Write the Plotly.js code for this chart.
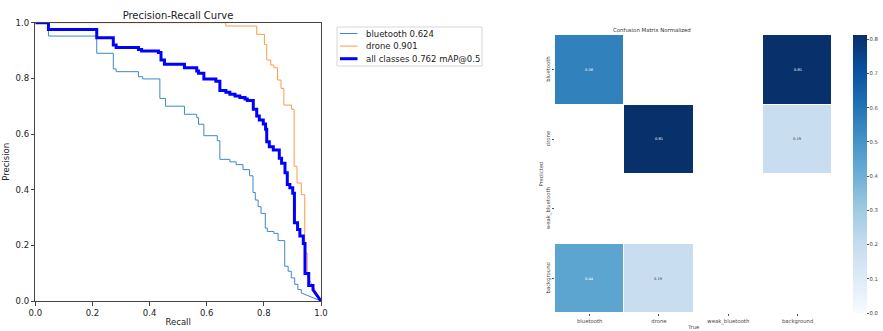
<!DOCTYPE html>
<html>
<head>
<meta charset="utf-8">
<script src="https://cdn.plot.ly/plotly-3.0.1.min.js"></script>
<style>html,body{margin:0;padding:0;background:#fff;}#chart{width:883px;height:331px;}</style>
</head>
<body>
<div id="chart"></div>
<script>
// ---- Precision-Recall data (step breakpoints: recall where the level starts, precision level) ----
const btRecall = [0, 0.046, 0.215, 0.273, 0.283, 0.361, 0.376, 0.436, 0.456, 0.522, 0.565, 0.571, 0.590, 0.637, 0.646, 0.681, 0.703, 0.727, 0.750, 0.762, 0.770, 0.780, 0.790, 0.805, 0.812, 0.835, 0.850, 0.873, 0.885, 0.896, 0.908, 0.919, 0.931];
const btPrec   = [1.0, 0.952, 0.890, 0.834, 0.824, 0.806, 0.798, 0.728, 0.700, 0.671, 0.659, 0.635, 0.594, 0.576, 0.509, 0.500, 0.490, 0.472, 0.450, 0.390, 0.363, 0.339, 0.315, 0.262, 0.250, 0.243, 0.217, 0.125, 0.107, 0.083, 0.060, 0.041, 0.029];

const droneRecall = [0, 0.667, 0.775, 0.802, 0.810, 0.824, 0.835, 0.848, 0.860, 0.870, 0.897, 0.906, 0.916, 0.931, 0.943, 0.952];
const dronePrec   = [1.0, 0.988, 0.958, 0.922, 0.866, 0.848, 0.838, 0.794, 0.764, 0.704, 0.689, 0.484, 0.424, 0.382, 0.172, 0.090];

const allRecall = [0, 0.046, 0.215, 0.273, 0.283, 0.361, 0.372, 0.431, 0.440, 0.452, 0.522, 0.565, 0.571, 0.590, 0.632, 0.646, 0.667, 0.681, 0.699, 0.716, 0.734, 0.742, 0.763, 0.775, 0.784, 0.798, 0.806, 0.810, 0.819, 0.833, 0.854, 0.862, 0.874, 0.882, 0.891, 0.901, 0.907, 0.918, 0.926, 0.938, 0.944, 0.957, 0.972];
const allPrec   = [1.0, 0.976, 0.946, 0.920, 0.911, 0.904, 0.898, 0.893, 0.866, 0.851, 0.838, 0.826, 0.818, 0.798, 0.790, 0.756, 0.750, 0.743, 0.737, 0.731, 0.726, 0.720, 0.689, 0.665, 0.650, 0.636, 0.617, 0.572, 0.554, 0.543, 0.513, 0.495, 0.461, 0.419, 0.407, 0.387, 0.281, 0.257, 0.234, 0.207, 0.099, 0.056, 0.040];

const seriesNames = ["bluetooth 0.624", "drone 0.901", "all classes 0.762 mAP@0.5"];

// ---- Confusion matrix data ----
const cmTrue = ["bluetooth", "drone", "weak_bluetooth", "background"];
const cmPred = ["bluetooth", "drone", "weak_bluetooth", "background"];
const cmRowBluetooth  = [0.56, null, null, 0.81];
const cmRowDrone      = [null, 0.81, null, 0.19];
const cmRowWeak       = [null, null, null, null];
const cmRowBackground = [0.44, 0.19, null, null];
const cmMax = 0.8125;

function stepLine(r, p) {
  const x = [r[0]], y = [p[0]];
  for (let i = 1; i < r.length; i++) {
    x.push(r[i]); y.push(p[i - 1]);
    x.push(r[i]); y.push(p[i]);
  }
  x.push(1); y.push(0);
  return {x, y};
}

const bt = stepLine(btRecall, btPrec);
const dr = stepLine(droneRecall, dronePrec);
const al = stepLine(allRecall, allPrec);

const W = 883, H = 331;
const px = v => v / W;
const py = v => (H - v) / H;

const FONT = "DejaVu Sans";
const cmZ = [cmRowBluetooth, cmRowDrone, cmRowWeak, cmRowBackground];
const lineColors = ['#3d89c6', '#ff9a45', '#0000ff'];
const lineWidths = [1, 1, 3];

const blues = [[0,'#f7fbff'],[0.125,'#deebf7'],[0.25,'#c6dbef'],[0.375,'#9ecae1'],[0.5,'#6baed6'],[0.625,'#4292c6'],[0.75,'#2171b5'],[0.875,'#08519c'],[1,'#08306b']];

const traces = [
  {x: bt.x, y: bt.y, type: 'scatter', mode: 'lines', name: seriesNames[0], line: {color: lineColors[0], width: lineWidths[0]}, xaxis: 'x', yaxis: 'y'},
  {x: dr.x, y: dr.y, type: 'scatter', mode: 'lines', name: seriesNames[1], line: {color: lineColors[1], width: lineWidths[1]}, xaxis: 'x', yaxis: 'y'},
  {x: al.x, y: al.y, type: 'scatter', mode: 'lines', name: seriesNames[2], line: {color: lineColors[2], width: lineWidths[2]}, xaxis: 'x', yaxis: 'y'},
  {z: cmZ, x: cmTrue, y: cmPred, type: 'heatmap', colorscale: blues, zmin: 0, zmax: cmMax,
   xgap: 1, ygap: 1, xaxis: 'x2', yaxis: 'y2', showlegend: false, hoverongaps: false,
   colorbar: {thickness: 14, x: px(852.5), xanchor: 'left', xref: 'paper', xpad: 0, ypad: 0, len: 278 / H, lenmode: 'fraction',
              y: py(174), yanchor: 'middle', outlinewidth: 0, ticks: 'outside', ticklen: 2, tickcolor: '#555',
              tickvals: [0,0.1,0.2,0.3,0.4,0.5,0.6,0.7,0.8], ticktext: ['0.0','0.1','0.2','0.3','0.4','0.5','0.6','0.7','0.8'],
              tickfont: {size: 5.3, color: '#444', family: FONT}}}
];

const annotations = [];
cmZ.forEach((row, i) => row.forEach((v, j) => {
  if (v === null) return;
  annotations.push({x: cmTrue[j], y: cmPred[i], xref: 'x2', yref: 'y2', text: v.toFixed(2), showarrow: false,
    font: {size: 3.6, family: FONT, color: v > 0.3 ? '#ffffff' : '#333333'}});
}));
annotations.push({text: 'Confusion Matrix Normalized', x: px(693), y: py(30.5), xref: 'paper', yref: 'paper',
  yanchor: 'middle', showarrow: false, font: {size: 5.4, family: FONT, color: '#333'}});

// ---- legend box (drawn as shapes + text, matplotlib style) ----
const shapes = [];
const legTop = 27, legStep = 12.6, legFirst = 33.5;
shapes.push({type: 'rect', xref: 'paper', yref: 'paper', x0: px(337), x1: px(482), y0: py(66), y1: py(legTop),
  line: {color: '#d6d6d6', width: 1}, fillcolor: 'rgba(255,255,255,0.8)', layer: 'above'});
seriesNames.forEach((nm, i) => {
  const yy = legFirst + i * legStep;
  shapes.push({type: 'line', xref: 'paper', yref: 'paper', x0: px(340), x1: px(357.5), y0: py(yy), y1: py(yy),
    line: {color: lineColors[i], width: lineWidths[i]}, layer: 'above'});
  annotations.push({text: nm, x: px(364), y: py(yy), xref: 'paper', yref: 'paper', xanchor: 'left', yanchor: 'middle',
    showarrow: false, font: {size: 8.5, family: FONT, color: '#222'}});
});

const axisCommon = {showgrid: false, zeroline: false, showline: true, mirror: true, linecolor: '#444', linewidth: 1,
  ticks: 'outside', ticklen: 3.5, tickcolor: '#444', tickfont: {size: 8.5, family: FONT, color: '#222'}};

const layout = {
  width: W, height: H,
  margin: {l: 0, r: 0, t: 0, b: 0, autoexpand: false},
  paper_bgcolor: '#fff', plot_bgcolor: '#fff',
  font: {family: FONT},
  title: {text: 'Precision-Recall Curve', x: px(178), xanchor: 'center', y: py(15), yanchor: 'middle', font: {size: 10, family: FONT, color: '#222'}},
  xaxis: Object.assign({}, axisCommon, {domain: [px(35.3), px(321)], range: [0, 1], dtick: 0.2, tickformat: '.1f',
    title: {text: 'Recall', standoff: 2, font: {size: 8.5, family: FONT, color: '#222'}}, anchor: 'y'}),
  yaxis: Object.assign({}, axisCommon, {domain: [py(301), py(22.7)], range: [0, 1], dtick: 0.2, tickformat: '.1f',
    title: {text: 'Precision', standoff: 4, font: {size: 8.5, family: FONT, color: '#222'}}, anchor: 'x'}),
  xaxis2: {domain: [px(555), px(832.3)], anchor: 'y2', showgrid: false, zeroline: false, showline: false,
    ticks: 'outside', ticklen: 2, tickcolor: '#555', tickfont: {size: 5.3, family: FONT, color: '#444'},
    title: {text: 'True', standoff: 1, font: {size: 5.3, family: FONT, color: '#444'}}},
  yaxis2: {domain: [py(313.3), py(35)], anchor: 'x2', autorange: 'reversed', showgrid: false, zeroline: false, showline: false,
    ticks: 'outside', ticklen: 2, tickcolor: '#555', tickangle: -90, tickfont: {size: 5.3, family: FONT, color: '#444'},
    title: {text: 'Predicted', standoff: 1, font: {size: 5.3, family: FONT, color: '#444'}}},
  showlegend: false,
  shapes: shapes,
  annotations: annotations
};

Plotly.newPlot('chart', traces, layout, {displayModeBar: false, staticPlot: true});
</script>
</body>
</html>
